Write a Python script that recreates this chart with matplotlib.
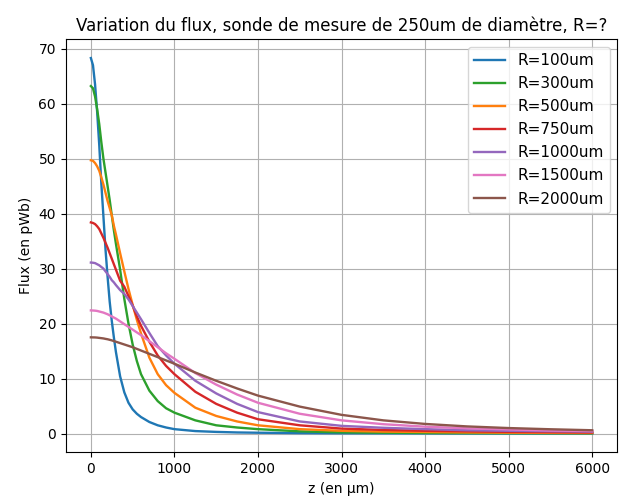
import matplotlib
matplotlib.use("Agg")
import matplotlib.pyplot as plt

# positions z (en µm) où les courbes ont été relevées
z = [0, 25, 50, 75, 100, 125, 150, 175, 200, 225, 250, 275, 300, 350, 400, 450,
     500, 550, 600, 700, 800, 900, 1000, 1250, 1500, 1750, 2000, 2500, 3000,
     3500, 4000, 4500, 5000, 5500, 6000]

flux_100 = [68.3, 67.0, 63.5, 58.5, 52.5, 45.5, 39.5, 33.5, 28.5, 24.0, 20.5, 17.5,
            14.8, 10.4, 7.5, 5.6, 4.4, 3.6, 3.0, 2.1, 1.5, 1.1, 0.8, 0.45, 0.3,
            0.2, 0.15, 0.08, 0.05, 0.04, 0.03, 0.02, 0.02, 0.01, 0.01]
flux_300 = [63.2, 62.8, 61.3, 59.0, 56.3, 53.0, 50.0, 47.5, 45.0, 42.5, 39.7, 37.0,
            34.5, 29.8, 24.5, 20.0, 16.2, 13.2, 10.8, 7.8, 5.9, 4.6, 3.8, 2.4, 1.5,
            1.1, 0.8, 0.4, 0.22, 0.15, 0.1, 0.08, 0.06, 0.05, 0.04]
flux_500 = [49.7, 49.6, 49.2, 48.6, 47.8, 46.6, 45.3, 43.8, 42.3, 41.0, 39.7, 37.8,
            36.2, 32.8, 29.5, 26.3, 23.4, 20.7, 18.2, 13.8, 10.8, 8.8, 7.4, 4.7, 3.2,
            2.2, 1.5, 0.8, 0.5, 0.35, 0.28, 0.2, 0.15, 0.12, 0.1]
flux_750 = [38.4, 38.3, 38.1, 37.7, 37.2, 36.4, 35.6, 34.7, 33.8, 32.8, 31.8, 30.8,
            29.8, 27.8, 26.7, 25.0, 23.3, 21.3, 19.6, 16.7, 14.2, 12.3, 10.8, 7.6, 5.4,
            3.8, 2.6, 1.5, 0.9, 0.65, 0.5, 0.4, 0.3, 0.25, 0.2]
flux_1000 = [31.1, 31.07, 31.0, 30.8, 30.6, 30.3, 30.0, 29.5, 29.0, 28.5, 27.9, 27.5,
             27.0, 26.1, 25.4, 24.4, 23.2, 22.0, 20.8, 18.3, 15.9, 14.2, 12.7, 9.6, 7.3,
             5.4, 3.9, 2.2, 1.4, 1.05, 0.8, 0.6, 0.5, 0.42, 0.35]
flux_1500 = [22.4, 22.38, 22.35, 22.3, 22.2, 22.1, 22.0, 21.85, 21.7, 21.5, 21.3, 21.1,
             20.9, 20.4, 19.9, 19.4, 18.9, 18.4, 17.9, 16.8, 15.7, 14.6, 13.6, 11.0, 8.9,
             7.1, 5.6, 3.6, 2.4, 1.7, 1.25, 0.95, 0.75, 0.55, 0.45]
flux_2000 = [17.5, 17.49, 17.48, 17.45, 17.4, 17.35, 17.3, 17.22, 17.15, 17.05, 16.95, 16.82,
             16.7, 16.45, 16.2, 15.95, 15.7, 15.4, 15.1, 14.5, 13.9, 13.3, 12.7, 11.1, 9.6,
             8.2, 6.9, 4.9, 3.4, 2.4, 1.75, 1.3, 1.0, 0.78, 0.6]

series = [
    ("R=100um", flux_100, "tab:blue"),
    ("R=300um", flux_300, "tab:green"),
    ("R=500um", flux_500, "tab:orange"),
    ("R=750um", flux_750, "tab:red"),
    ("R=1000um", flux_1000, "tab:purple"),
    ("R=1500um", flux_1500, "tab:pink"),
    ("R=2000um", flux_2000, "tab:brown"),
]

fig = plt.figure(figsize=(6.39, 4.97), dpi=100)
ax = fig.add_subplot(111)
fig.subplots_adjust(left=0.103, right=0.966, top=0.921, bottom=0.09)

for label, flux, color in series:
    ax.plot(z, flux, color=color, label=label, lw=1.7)

ax.set_title("Variation du flux, sonde de mesure de 250um de diamètre, R=?")
ax.set_xlabel("z (en µm)")
ax.set_ylabel("Flux (en pWb)")
ax.legend(loc="upper right", fontsize=11, labelspacing=0.53)
ax.grid(True)

fig.savefig("out.png")
